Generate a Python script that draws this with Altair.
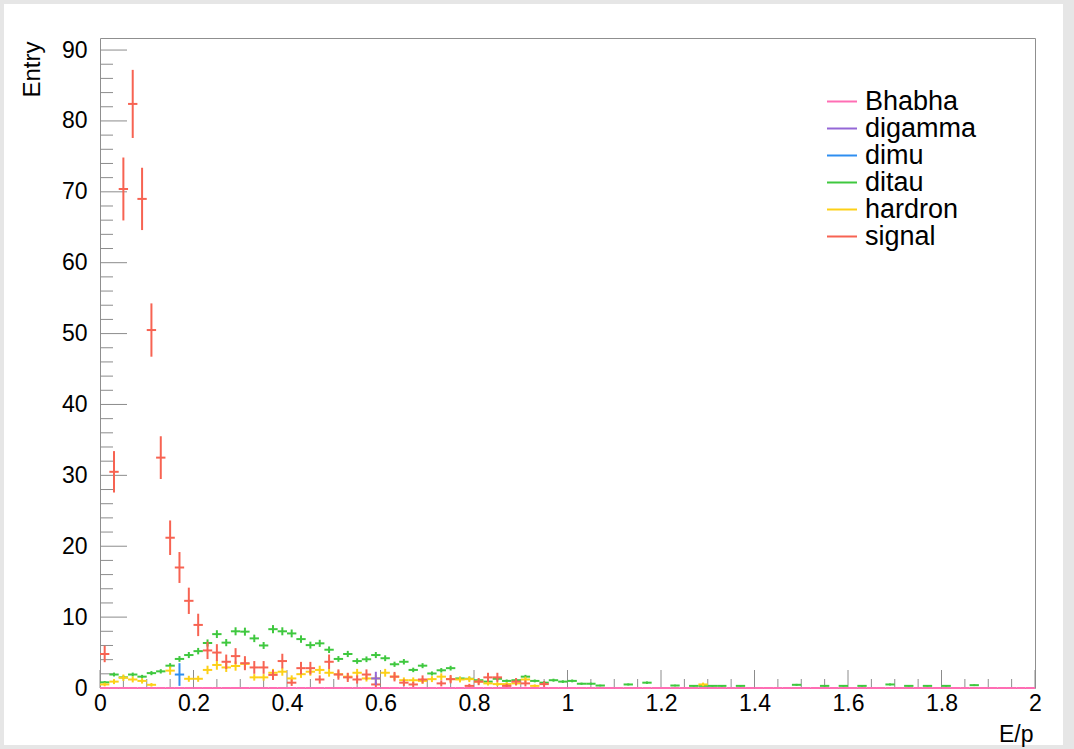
import altair as alt
import pandas as pd

# ---------------- data ----------------
n_bins = 100
bin_width = 0.02

series_names = ["Bhabha", "digamma", "dimu", "ditau", "hardron", "signal"]
series_colors = ["#ff6eb4", "#9467d6", "#2e8ef0", "#3fc83f", "#fdd017", "#f76352"]

signal = [4.8, 30.5, 70.4, 82.4, 69.0, 50.5, 32.5, 21.2, 17.0, 12.3,
          8.9, 5.3, 5.0, 3.7, 4.5, 3.5, 2.9, 2.9, 1.85, 3.8,
          0.75, 2.8, 2.8, 1.2, 3.7, 1.9, 1.5, 1.2, 1.9, 0.5,
          0.0, 1.6, 0.75, 0.5, 1.2, 0.0, 0.65, 1.25, 0.0, 0.3,
          0.9, 1.5, 1.5, 0.3, 0.9, 0.65, 0.0, 0.55, 0.0, 0.0] + [0.0] * 50

ditau = [0.8, 1.9, 1.5, 1.9, 1.6, 2.1, 2.35, 3.15, 4.1, 4.65,
         5.2, 6.35, 7.6, 6.4, 8.0, 7.95, 7.0, 6.0, 8.3, 8.0,
         7.7, 6.9, 6.05, 6.3, 5.4, 4.1, 4.8, 3.8, 4.05, 4.65,
         4.2, 3.35, 3.7, 2.55, 3.15, 2.05, 2.5, 2.8, 1.35, 1.3,
         1.1, 0.9, 1.3, 1.0, 1.1, 1.6, 1.0, 0.75, 1.1, 0.9,
         1.0, 0.6, 0.6, 0.35, 0.0, 0.0, 0.5, 0.0, 0.75, 0.0,
         0.0, 0.35, 0.0, 0.3, 0.3, 0.3, 0.3, 0.0, 0.3, 0.0,
         0.0, 0.0, 0.0, 0.0, 0.45, 0.0, 0.0, 0.3, 0.0, 0.3,
         0.0, 0.3, 0.0, 0.0, 0.5, 0.0, 0.3, 0.0, 0.3, 0.0,
         0.3, 0.0, 0.0, 0.4, 0.0, 0.0, 0.0, 0.0, 0.0, 0.0]

hardron = [0.5, 0.9, 1.45, 1.2, 1.0, 0.45, 0.0, 2.45, 0.0, 1.3,
           1.3, 2.55, 3.25, 2.9, 3.1, 3.4, 1.5, 1.5, 2.15, 2.3,
           1.35, 1.95, 2.3, 2.55, 2.15, 1.95, 1.6, 2.15, 1.35, 1.35,
           2.15, 1.6, 1.1, 1.1, 1.0, 1.25, 1.6, 1.25, 1.2, 1.25,
           0.9, 0.65, 0.55, 0.55, 0.65, 1.2, 0.3, 0.0, 0.0, 0.0,
           0.0, 0.0, 0.0, 0.0, 0.0, 0.0, 0.0, 0.0, 0.0, 0.0,
           0.0, 0.0, 0.0, 0.0, 0.5, 0.0, 0.0, 0.0, 0.0, 0.0] + [0.0] * 30

# sparse series: bin index -> (value, error)
dimu = {8: (1.9, 1.6)}
digamma = {29: (1.35, 0.94)}
bhabha = [0.0] * n_bins

# per-event weights (error = sqrt(weight * content))
weights = {"signal": 0.28, "ditau": 0.04, "hardron": 0.14}

x_major = [0, 0.2, 0.4, 0.6, 0.8, 1, 1.2, 1.4, 1.6, 1.8, 2]
x_minor = [0.05, 0.1, 0.15, 0.25, 0.3, 0.35, 0.45, 0.5, 0.55, 0.65, 0.7, 0.75,
           0.85, 0.9, 0.95, 1.05, 1.1, 1.15, 1.25, 1.3, 1.35, 1.45, 1.5, 1.55,
           1.65, 1.7, 1.75, 1.85, 1.9, 1.95]
y_major = [0, 10, 20, 30, 40, 50, 60, 70, 80, 90]
y_minor = [2, 4, 6, 8, 12, 14, 16, 18, 22, 24, 26, 28, 32, 34, 36, 38, 42, 44,
           46, 48, 52, 54, 56, 58, 62, 64, 66, 68, 72, 74, 76, 78, 82, 84, 86, 88]

# ---------------- build cross segments ----------------
rows = []
order = 0


def add_cross(name, i, v, e, draw_zero=False):
    global order
    c = 0.01 + bin_width * i
    lo, hi = c - bin_width / 2, c + bin_width / 2
    if v <= 0 and not draw_zero:
        return
    rows.append(dict(series=name, x=lo, x2=hi, y=v, y2=v, o=order)); order += 1
    if v > 0:
        rows.append(dict(series=name, x=c, x2=c, y=max(0.0, v - e), y2=v + e, o=order)); order += 1


for name, vals in [("ditau", ditau), ("hardron", hardron), ("signal", signal)]:
    w = weights[name]
    for i, v in enumerate(vals):
        add_cross(name, i, v, (w * v) ** 0.5)
for name, d in [("dimu", dimu), ("digamma", digamma)]:
    for i, (v, e) in d.items():
        add_cross(name, i, v, e)
for i, v in enumerate(bhabha):
    add_cross("Bhabha", i, v, 0.0, draw_zero=True)

df = pd.DataFrame(rows)

W, H = 935, 650
xs = alt.Scale(domain=[0, 2], nice=False, zero=False)
ys = alt.Scale(domain=[0, 91.7], nice=False, zero=False)
tick_color = "#8c8c8c"
border = "#e6e6e6"
one = pd.DataFrame({"a": [0]})

# light grey window border around the canvas
borders = [
    alt.Chart(one).mark_rect(color=border).encode(x=alt.value(-100), x2=alt.value(974), y=alt.value(-38), y2=alt.value(-34)),
    alt.Chart(one).mark_rect(color=border).encode(x=alt.value(-100), x2=alt.value(974), y=alt.value(707), y2=alt.value(711)),
    alt.Chart(one).mark_rect(color=border).encode(x=alt.value(-100), x2=alt.value(-96), y=alt.value(-38), y2=alt.value(711)),
    alt.Chart(one).mark_rect(color=border).encode(x=alt.value(963), x2=alt.value(974), y=alt.value(-38), y2=alt.value(711)),
]

xmaj = alt.Chart(pd.DataFrame({"v": x_major})).mark_rule(color=tick_color, strokeWidth=1).encode(
    x=alt.X("v:Q", scale=xs), y=alt.value(H), y2=alt.value(H - 18))
xmin = alt.Chart(pd.DataFrame({"v": x_minor})).mark_rule(color=tick_color, strokeWidth=1).encode(
    x=alt.X("v:Q", scale=xs), y=alt.value(H), y2=alt.value(H - 9))
ymaj = alt.Chart(pd.DataFrame({"v": y_major})).mark_rule(color=tick_color, strokeWidth=1).encode(
    y=alt.Y("v:Q", scale=ys), x=alt.value(0), x2=alt.value(27))
ymin = alt.Chart(pd.DataFrame({"v": y_minor})).mark_rule(color=tick_color, strokeWidth=1).encode(
    y=alt.Y("v:Q", scale=ys), x=alt.value(0), x2=alt.value(13))

x_axis = alt.Axis(values=x_major, format="~g", title="E/p", ticks=False, domain=False,
                  grid=False, labelFontSize=23, labelPadding=4, labelFont="Liberation Sans",
                  labelColor="black", labelFlush=False, zindex=1,
                  titleFont="Liberation Sans", titleFontSize=23, titleFontWeight="normal",
                  titleAnchor="end", titleAlign="right", titleBaseline="alphabetic",
                  titleX=W - 2, titleY=53, titleColor="black")
y_axis = alt.Axis(values=y_major, format="~g", title="Entry", ticks=False, domain=False,
                  grid=False, labelFontSize=23, labelPadding=13, labelFont="Liberation Sans",
                  labelColor="black", labelFlush=False, zindex=1,
                  titleFont="Liberation Sans", titleFontSize=24, titleFontWeight="normal",
                  titleAngle=270, titleAnchor="end", titleAlign="right",
                  titleBaseline="middle", titleX=-68, titleY=3, titleColor="black")

crosses = alt.Chart(df).mark_rule(strokeWidth=2).encode(
    x=alt.X("x:Q", scale=xs, axis=x_axis),
    x2="x2:Q",
    y=alt.Y("y:Q", scale=ys, axis=y_axis),
    y2="y2:Q",
    color=alt.Color("series:N", scale=alt.Scale(domain=series_names, range=series_colors),
                    legend=None),
    order=alt.Order("o:Q"),
)

# legend (drawn by hand, ROOT style)
legend_layers = []
for i, (name, col) in enumerate(zip(series_names, series_colors)):
    yy = 63.5 + 27 * i
    legend_layers.append(alt.Chart(one).mark_rule(color=col, strokeWidth=2).encode(
        x=alt.value(727), x2=alt.value(757), y=alt.value(yy), y2=alt.value(yy)))
    legend_layers.append(alt.Chart(pd.DataFrame({"t": [name]})).mark_text(
        align="left", baseline="middle", font="Liberation Sans", fontSize=27, color="black"
    ).encode(x=alt.value(765), y=alt.value(yy), text="t:N"))

chart = alt.layer(*borders, xmin, xmaj, ymin, ymaj, crosses, *legend_layers).properties(
    width=W, height=H,
    padding={"left": 100, "top": 38, "right": 39, "bottom": 61},
    autosize=alt.AutoSizeParams(type="none"),
    background="white",
).configure_view(stroke="#8f8f8f", strokeWidth=1)

chart.save("out.html", embed_options={"renderer": "svg", "actions": False})
